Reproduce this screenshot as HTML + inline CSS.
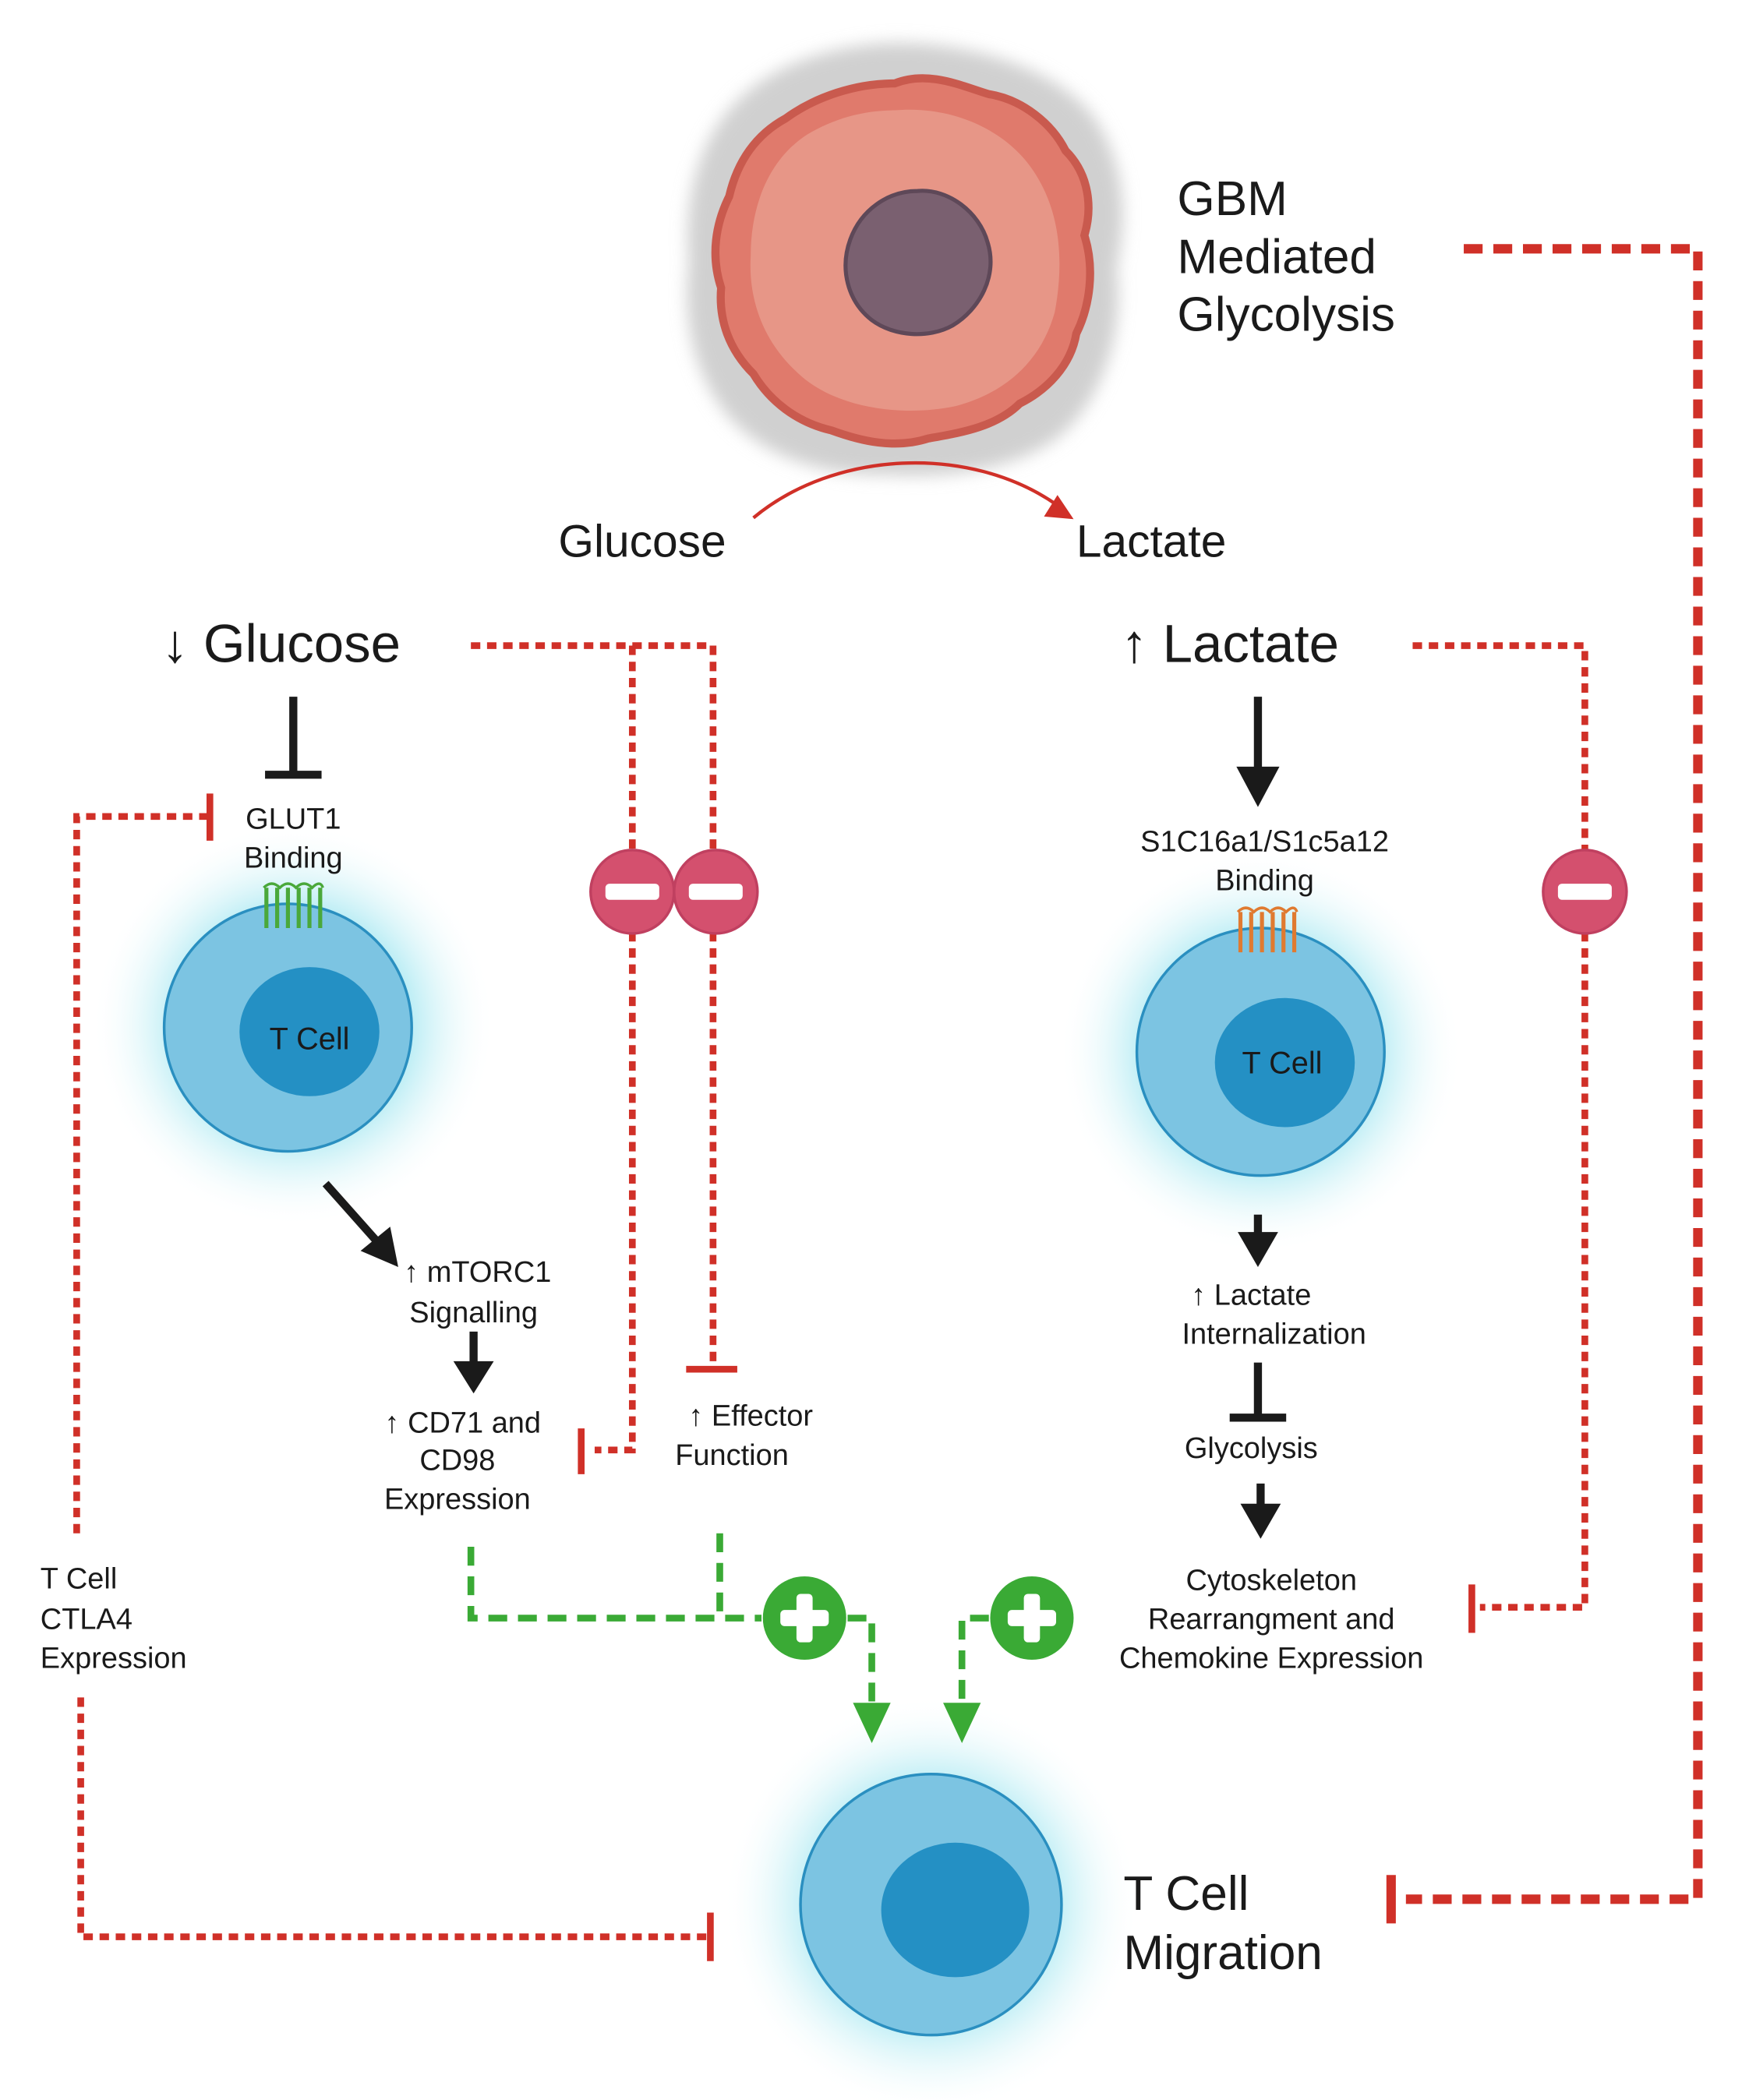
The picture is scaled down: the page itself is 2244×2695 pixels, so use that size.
<!DOCTYPE html>
<html><head><meta charset="utf-8"><style>
html,body{margin:0;padding:0;background:#fff}
svg{display:block}
text{font-family:"Liberation Sans","DejaVu Sans",sans-serif;fill:#1a1a1a}
</style></head><body>
<svg width="2244" height="2695" viewBox="0 0 1300 1561.3" xmlns="http://www.w3.org/2000/svg">
<defs>
<radialGradient id="glow" cx="50%" cy="50%" r="50%">
<stop offset="55%" stop-color="#a8e8f2" stop-opacity="0.9"/>
<stop offset="75%" stop-color="#d6f4f8" stop-opacity="0.6"/>
<stop offset="100%" stop-color="#ffffff" stop-opacity="0"/>
</radialGradient>
<filter id="blur" x="-20%" y="-20%" width="140%" height="140%"><feGaussianBlur stdDeviation="6"/></filter>
</defs>

<circle cx="218" cy="762" r="150" fill="url(#glow)"/>
<circle cx="937" cy="782" r="150" fill="url(#glow)"/>
<circle cx="692" cy="1416" r="155" fill="url(#glow)"/>

<!-- tumor -->
<path d="M660,32 C720,30 790,52 815,90 C840,130 836,170 830,200 C836,250 818,298 788,324 C755,350 700,356 660,353 C610,354 562,338 537,304 C512,270 508,230 512,195 C508,150 518,106 547,76 C577,46 620,34 660,32z" fill="#d0d0d0" filter="url(#blur)"/>
<path d="M665,62 C690,52 715,64 735,70 C760,74 782,92 792,112 C810,130 812,155 806,175 C814,200 810,228 800,248 C796,272 778,290 758,300 C740,318 712,322 690,326 C665,334 640,328 618,320 C592,314 572,298 560,278 C542,260 534,238 536,214 C528,190 532,166 542,146 C548,120 562,100 584,88 C606,72 636,62 665,62z" fill="#e07a6c" stroke="#c95a4e" stroke-width="6"/>
<path d="M665,82 C712,78 752,100 770,130 C790,162 790,200 784,232 C774,268 748,292 710,302 C672,310 624,304 596,280 C568,256 556,224 558,190 C558,152 572,118 600,100 C620,88 642,82 665,82z" fill="#eaa090" opacity="0.75"/>
<path d="M682,142 C705,140 728,158 734,180 C742,205 728,230 708,242 C690,252 664,250 648,238 C630,224 624,200 632,178 C640,156 660,142 682,142z" fill="#7a6070" stroke="#5e4858" stroke-width="3"/>

<text x="875" y="160" font-size="36">GBM</text>
<text x="875" y="203" font-size="36">Mediated</text>
<text x="875" y="246" font-size="36">Glycolysis</text>

<g fill="none" stroke="#d03028" stroke-width="7" stroke-dasharray="14,8">
<path d="M1088,185 H1262 V1412 H1045"/>
</g>
<line x1="1034" y1="1394" x2="1034" y2="1430" stroke="#d03028" stroke-width="7"/>

<text x="415" y="414" font-size="34">Glucose</text>
<text x="800" y="414" font-size="34">Lactate</text>
<path d="M560,385 C620,335 720,330 785,375" fill="none" stroke="#d03028" stroke-width="2.5"/>
<path d="M798,386 L776,384 L786,368z" fill="#d03028"/>

<text x="120" y="492" font-size="40">↓ Glucose</text>
<text x="833" y="492" font-size="40">↑ Lactate</text>

<g fill="none" stroke="#d03028" stroke-width="5" stroke-dasharray="7,5">
<path d="M350,480 H530 V635"/>
<path d="M470,480 V635"/>
<path d="M470,693 V1078 H442"/>
<path d="M530,693 V1015"/>
<path d="M155,607 H57 V1140"/>
<path d="M60,1262 V1440 H525"/>
<path d="M1050,480 H1178 V635"/>
<path d="M1178,693 V1195 H1100"/>
</g>
<g stroke="#d03028" stroke-width="5">
<line x1="432" y1="1062" x2="432" y2="1096"/>
<line x1="510" y1="1018" x2="548" y2="1018"/>
<line x1="156" y1="590" x2="156" y2="625"/>
<line x1="528" y1="1422" x2="528" y2="1458"/>
<line x1="1094" y1="1178" x2="1094" y2="1214"/>
</g>
<g fill="#d4506e" stroke="#c04060" stroke-width="2">
<circle cx="470" cy="663" r="31"/><circle cx="532" cy="663" r="31"/><circle cx="1178" cy="663" r="31"/>
</g>
<g fill="#fff"><rect x="450" y="657" width="40" height="12" rx="3"/><rect x="512" y="657" width="40" height="12" rx="3"/><rect x="1158" y="657" width="40" height="12" rx="3"/></g>

<g stroke="#1a1a1a" stroke-width="6">
<line x1="218" y1="518" x2="218" y2="575"/><line x1="197" y1="576" x2="239" y2="576"/>
</g>
<text x="218" y="616" font-size="22" text-anchor="middle">GLUT1</text>
<text x="218" y="645" font-size="22" text-anchor="middle">Binding</text>
<circle cx="214" cy="764" r="92" fill="#7cc4e2" stroke="#2a8fc0" stroke-width="2"/>
<ellipse cx="230" cy="767" rx="52" ry="48" fill="#2490c4"/>
<text x="230" y="780" font-size="23" text-anchor="middle">T Cell</text>
<path d="M198,690 V660 M206,690 V660 M214,690 V660 M222,690 V660 M230,690 V660 M238,690 V660" stroke="#4aa83a" stroke-width="3" fill="none"/>
<path d="M196,660 Q202,654 208,660 Q214,654 220,660 Q226,654 232,660 Q238,654 240,660" stroke="#4aa83a" stroke-width="2" fill="none"/>

<line x1="242" y1="880" x2="282" y2="925" stroke="#1a1a1a" stroke-width="6"/>
<path d="M296,942 L268,930 L290,912z" fill="#1a1a1a"/>
<text x="355" y="953" font-size="22" text-anchor="middle">↑ mTORC1</text>
<text x="352" y="983" font-size="22" text-anchor="middle">Signalling</text>
<line x1="352" y1="990" x2="352" y2="1015" stroke="#1a1a1a" stroke-width="6"/>
<path d="M337,1012 L367,1012 L352,1036z" fill="#1a1a1a"/>
<text x="344" y="1065" font-size="22" text-anchor="middle">↑ CD71 and</text>
<text x="340" y="1093" font-size="22" text-anchor="middle">CD98</text>
<text x="340" y="1122" font-size="22" text-anchor="middle">Expression</text>
<text x="558" y="1060" font-size="22" text-anchor="middle">↑ Effector</text>
<text x="544" y="1089" font-size="22" text-anchor="middle">Function</text>

<text x="30" y="1181" font-size="22">T Cell</text>
<text x="30" y="1211" font-size="22">CTLA4</text>
<text x="30" y="1240" font-size="22">Expression</text>

<g fill="none" stroke="#3aaa35" stroke-width="5" stroke-dasharray="14,8">
<path d="M350,1150 V1203 H566"/>
<path d="M535,1140 V1203"/>
<path d="M630,1203 H648 V1268"/>
<path d="M735,1203 H715 V1268"/>
</g>
<path d="M634,1266 L662,1266 L648,1296z M701,1266 L729,1266 L715,1296z" fill="#3aaa35"/>
<circle cx="598" cy="1203" r="31" fill="#3aaa35"/>
<circle cx="767" cy="1203" r="31" fill="#3aaa35"/>
<g fill="#fff"><rect x="580" y="1197" width="36" height="12" rx="3"/><rect x="592" y="1185" width="12" height="36" rx="3"/><rect x="749" y="1197" width="36" height="12" rx="3"/><rect x="761" y="1185" width="12" height="36" rx="3"/></g>

<circle cx="692" cy="1416" r="97" fill="#7cc4e2" stroke="#2a8fc0" stroke-width="2"/>
<ellipse cx="710" cy="1420" rx="55" ry="50" fill="#2490c4"/>
<text x="835" y="1420" font-size="36">T Cell</text>
<text x="835" y="1464" font-size="36">Migration</text>

<line x1="935" y1="518" x2="935" y2="575" stroke="#1a1a1a" stroke-width="6"/>
<path d="M919,570 L951,570 L935,600z" fill="#1a1a1a"/>
<text x="940" y="633" font-size="22" text-anchor="middle">S1C16a1/S1c5a12</text>
<text x="940" y="662" font-size="22" text-anchor="middle">Binding</text>
<circle cx="937" cy="782" r="92" fill="#7cc4e2" stroke="#2a8fc0" stroke-width="2"/>
<ellipse cx="955" cy="790" rx="52" ry="48" fill="#2490c4"/>
<text x="953" y="798" font-size="23" text-anchor="middle">T Cell</text>
<path d="M922,708 V678 M930,708 V678 M938,708 V678 M946,708 V678 M954,708 V678 M962,708 V678" stroke="#e07a30" stroke-width="3" fill="none"/>
<path d="M920,678 Q926,672 932,678 Q938,672 944,678 Q950,672 956,678 Q962,672 964,678" stroke="#e07a30" stroke-width="2" fill="none"/>

<line x1="935" y1="903" x2="935" y2="920" stroke="#1a1a1a" stroke-width="6"/>
<path d="M920,916 L950,916 L935,942z" fill="#1a1a1a"/>
<text x="930" y="970" font-size="22" text-anchor="middle">↑ Lactate</text>
<text x="947" y="999" font-size="22" text-anchor="middle">Internalization</text>
<g stroke="#1a1a1a" stroke-width="6"><line x1="935" y1="1013" x2="935" y2="1053"/><line x1="914" y1="1054" x2="956" y2="1054"/></g>
<text x="930" y="1084" font-size="22" text-anchor="middle">Glycolysis</text>
<line x1="937" y1="1103" x2="937" y2="1122" stroke="#1a1a1a" stroke-width="6"/>
<path d="M922,1118 L952,1118 L937,1144z" fill="#1a1a1a"/>
<text x="945" y="1182" font-size="22" text-anchor="middle">Cytoskeleton</text>
<text x="945" y="1211" font-size="22" text-anchor="middle">Rearrangment and</text>
<text x="945" y="1240" font-size="22" text-anchor="middle">Chemokine Expression</text>
</svg>
</body></html>
